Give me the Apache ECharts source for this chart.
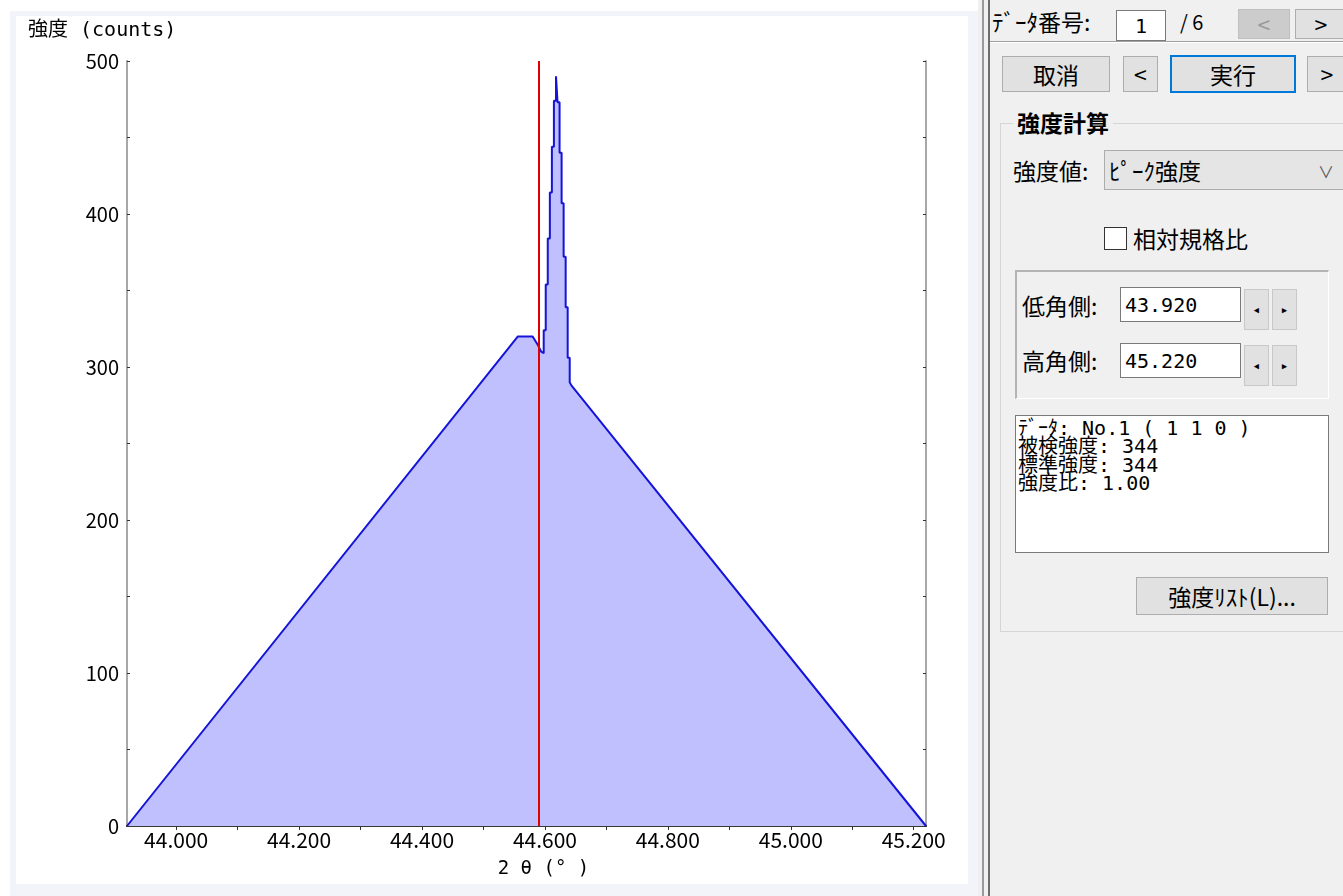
<!DOCTYPE html>
<html>
<head>
<meta charset="utf-8">
<script src="https://cdn.jsdelivr.net/npm/echarts@6/dist/echarts.min.js"></script>
<style>
  html, body { margin: 0; padding: 0; width: 1343px; height: 896px; overflow: hidden; background: #ffffff; }
  body { position: relative; font-family: "DejaVu Sans Mono", "Noto Sans CJK JP", monospace; color: #000; }
  .abs { position: absolute; box-sizing: border-box; }
  #frame { left: 10px; top: 11px; width: 970px; height: 885px; background: #f2f4fa; }
  #chart { left: 16px; top: 16px; width: 952px; height: 868px; background: #ffffff; }
  #side { left: 978px; top: 0; width: 365px; height: 896px; background: #f0f0f0; }
  .vline { top: 0; height: 896px; width: 2px; }
  .txt { font-size: 23px; line-height: 26px; white-space: nowrap; font-family: "Noto Sans CJK JP", sans-serif; }
  .btn { background: #e1e1e1; border: 1px solid #adadad; font-size: 23px; display: flex; align-items: center; justify-content: center; white-space: nowrap; font-family: "Noto Sans CJK JP", sans-serif; }
  .input { background: #ffffff; border: 1px solid #7a7a7a; font-size: 20px; padding-left: 4px; display: flex; align-items: center; white-space: nowrap; }
  .spin { background: #e1e1e1; border: 1px solid #c8c8c8; font-size: 13px; color: #000; display: flex; align-items: center; justify-content: center; }
</style>
</head>
<body>
<div id="frame" class="abs"></div>
<div id="chart" class="abs"></div>

<div id="side" class="abs">
  <div class="abs vline" style="left:4px; background:#9a9a9a;"></div>
  <div class="abs vline" style="left:10px; background:#6e6e6e;"></div>
  <div class="abs" style="left:12px; top:41px; width:353px; height:1px; background:#a0a0a0;"></div>
  <div class="abs" style="left:12px; top:42px; width:353px; height:1px; background:#ffffff;"></div>

  <!-- data number row -->
  <div class="abs txt" style="left:14px; top:8px;">ﾃﾞｰﾀ番号:</div>
  <div class="abs input" style="left:138px; top:10px; width:50px; height:31px; justify-content:center; padding:0;">1</div>
  <div class="abs txt" style="left:202px; top:9px; font-size:20px;">/ 6</div>
  <div class="abs btn" style="left:260px; top:9px; width:52px; height:30px; background:#cccccc; border-color:#bfbfbf; color:#9a9a9a;">&lt;</div>
  <div class="abs btn" style="left:317px; top:9px; width:52px; height:30px;">&gt;</div>

  <!-- action buttons -->
  <div class="abs btn" style="left:24px; top:56px; width:108px; height:36px;">取消</div>
  <div class="abs btn" style="left:145px; top:56px; width:35px; height:36px;">&lt;</div>
  <div class="abs btn" style="left:192px; top:55px; width:126px; height:38px; border:2px solid #0078d7;">実行</div>
  <div class="abs btn" style="left:329px; top:56px; width:40px; height:36px;">&gt;</div>

  <!-- group box -->
  <div class="abs" style="left:22px; top:123px; width:360px; height:509px; border:1px solid #d5d5d5;"></div>
  <div class="abs txt" style="left:35px; top:109px; padding:0 4px; background:#f0f0f0; font-weight:bold;">強度計算</div>

  <div class="abs txt" style="left:35px; top:157px;">強度値:</div>
  <div class="abs input" style="left:126px; top:150px; width:250px; height:40px; background:#e5e5e5; border-color:#acacac; font-size:23px; font-family:'Noto Sans CJK JP',sans-serif;">ﾋﾟｰｸ強度</div>
  <div class="abs txt" style="left:340px; top:158px; color:#555; font-size:16px;">∨</div>

  <div class="abs" style="left:126px; top:227px; width:23px; height:23px; border:1px solid #333; background:#fff;"></div>
  <div class="abs txt" style="left:155px; top:225px;">相対規格比</div>

  <!-- angle range box -->
  <div class="abs" style="left:37px; top:270px; width:314px; height:129px; border-top:2px solid #b4b4b4; border-left:2px solid #b4b4b4; border-right:1px solid #ffffff; border-bottom:1px solid #ffffff;"></div>
  <div class="abs txt" style="left:44px; top:292px;">低角側:</div>
  <div class="abs input" style="left:142px; top:287px; width:121px; height:35px;">43.920</div>
  <div class="abs spin" style="left:266px; top:289px; width:25px; height:41px;">◂</div>
  <div class="abs spin" style="left:294px; top:289px; width:25px; height:41px;">▸</div>
  <div class="abs txt" style="left:44px; top:347px;">高角側:</div>
  <div class="abs input" style="left:142px; top:343px; width:121px; height:35px;">45.220</div>
  <div class="abs spin" style="left:266px; top:345px; width:25px; height:41px;">◂</div>
  <div class="abs spin" style="left:294px; top:345px; width:25px; height:41px;">▸</div>

  <!-- result box -->
  <div class="abs" style="left:37px; top:415px; width:314px; height:138px; border:1px solid #7a7a7a; background:#fff; padding:3px 2px; font-size:20px; line-height:18.3px; white-space:pre;">ﾃﾞｰﾀ: No.1 ( 1 1 0 )
被検強度: 344
標準強度: 344
強度比: 1.00</div>

  <div class="abs btn" style="left:158px; top:577px; width:192px; height:38px;">強度ﾘｽﾄ(L)...</div>
</div>

<script>
// diffraction profile: 2θ (deg) and intensity (counts)
const twoTheta = [
  43.920, 44.556, 44.580, 44.589, 44.594, 44.598,
  44.598, 44.6013, 44.6013, 44.6046, 44.6046, 44.6080, 44.6080, 44.6113, 44.6113, 44.6146, 44.6146, 44.6180,
  44.6180, 44.6205,
  44.6205, 44.6238, 44.6238, 44.6271, 44.6271, 44.6304, 44.6304, 44.6337, 44.6337, 44.6370, 44.6370, 44.6403,
  44.6403, 44.643, 45.220
];
const counts = [
  0, 320, 320, 314, 310, 309,
  324, 324, 354, 354, 384, 384, 414, 414, 444, 444, 474, 474,
  490, 490,
  473, 473, 440, 440, 407, 407, 372, 372, 339, 339, 306, 306,
  290, 288, 0
];

// axis ranges and ticks
const xMin = 43.92;
const xMax = 45.22;
const xLabelValues = [44.0, 44.2, 44.4, 44.6, 44.8, 45.0, 45.2];
const xTickValues = [44.0, 44.1, 44.2, 44.3, 44.4, 44.5, 44.6, 44.7, 44.8, 44.9, 45.0, 45.1, 45.2];
const yMin = 0;
const yMax = 500;
const yTickStep = 50;
const yLabelStep = 100;

// reference peak position marker
const peakPosition = 44.588;

const yTitle = '強度 (counts)';
const xTitle = '2 θ (° )';

const MONO = '"DejaVu Sans Mono", "Noto Sans CJK JP", monospace';
const SANS = '"Noto Sans CJK JP", sans-serif';
const points = twoTheta.map((t, i) => [t, counts[i]]);

const chart = echarts.init(document.getElementById('chart'), null, { renderer: 'canvas' });

const darkLine = { lineStyle: { color: '#3a3a3a', width: 2 } };
const grayLine = { lineStyle: { color: '#a8a8a8', width: 2 } };

chart.setOption({
  animation: false,
  backgroundColor: '#ffffff',
  title: {
    text: yTitle,
    left: 12,
    top: 5,
    padding: 0,
    textStyle: { fontFamily: MONO, fontSize: 20, fontWeight: 'normal', color: '#000' }
  },
  grid: { left: 111, right: 42, top: 45, bottom: 58 },
  xAxis: [
    {
      type: 'value',
      position: 'bottom',
      min: xMin,
      max: xMax,
      name: xTitle,
      nameLocation: 'middle',
      nameGap: 34,
      nameTextStyle: { fontFamily: MONO, fontSize: 19, color: '#000', padding: [0, 0, 0, 34] },
      axisLine: darkLine,
      axisTick: { show: true, inside: true, length: 4, customValues: xTickValues, lineStyle: { color: '#333' } },
      axisLabel: {
        customValues: xLabelValues,
        formatter: v => v.toFixed(3),
        margin: 4,
        fontFamily: SANS,
        fontSize: 21,
        color: '#000'
      },
      splitLine: { show: false }
    },
    {
      type: 'value',
      position: 'top',
      min: xMin,
      max: xMax,
      axisLine: darkLine,
      axisTick: { show: true, inside: true, length: 4, customValues: xTickValues, lineStyle: { color: '#333' } },
      axisLabel: { show: false },
      splitLine: { show: false }
    }
  ],
  yAxis: [
    {
      type: 'value',
      position: 'left',
      min: yMin,
      max: yMax,
      interval: yTickStep,
      axisLine: { show: true, ...grayLine },
      axisTick: { show: true, inside: true, length: 3, lineStyle: { color: '#333' } },
      axisLabel: {
        formatter: v => (v % yLabelStep === 0 ? String(v) : ''),
        margin: 8,
        fontFamily: SANS,
        fontSize: 20,
        color: '#000'
      },
      splitLine: { show: false }
    },
    {
      type: 'value',
      position: 'right',
      min: yMin,
      max: yMax,
      interval: yTickStep,
      axisLine: { show: true, ...grayLine },
      axisTick: { show: true, inside: true, length: 3, lineStyle: { color: '#333' } },
      axisLabel: { show: false },
      splitLine: { show: false }
    }
  ],
  series: [
    {
      type: 'line',
      xAxisIndex: 0,
      yAxisIndex: 0,
      data: points,
      showSymbol: false,
      symbol: 'none',
      lineStyle: { color: '#1414d8', width: 2 },
      areaStyle: { color: '#c0c0ff', opacity: 1 },
      z: 3,
      markLine: {
        silent: true,
        symbol: 'none',
        label: { show: false },
        lineStyle: { color: '#e00000', width: 2, type: 'solid' },
        data: [{ xAxis: peakPosition }],
        z: 5
      }
    }
  ]
});
</script>
</body>
</html>
